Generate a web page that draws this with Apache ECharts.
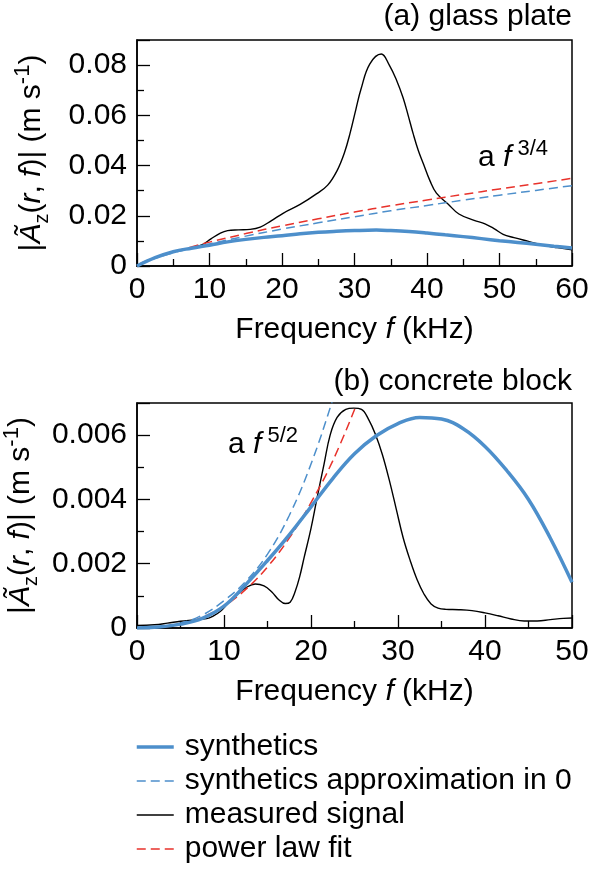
<!DOCTYPE html>
<html>
<head>
<meta charset="utf-8">
<script src="https://cdn.jsdelivr.net/npm/echarts@6/dist/echarts.min.js"></script>
<style>
  html, body { margin: 0; padding: 0; background: #fff; }
  #chart { width: 591px; height: 872px; }
</style>
</head>
<body>
<div id="chart"></div>
<script>
// (a) glass plate, [f kHz, |A| m/s]
const glassMeasured = [
  [0, 0], [2.5, 0.0032], [5, 0.0058], [7.5, 0.0072], [9, 0.0085], [10.2, 0.0108],
  [11.5, 0.0131], [12.5, 0.0141], [14, 0.0144], [15.6, 0.0146], [17, 0.0155],
  [18.5, 0.018], [20.2, 0.0211], [22.5, 0.0245], [24.8, 0.0288], [26.3, 0.0322],
  [27.6, 0.038], [28.6, 0.045], [29.4, 0.053], [30.2, 0.0625], [30.9, 0.0705],
  [32.1, 0.0804], [33.7, 0.0844], [34.8, 0.080], [35.8, 0.074], [36.7, 0.067],
  [37.4, 0.060], [38.1, 0.0526], [38.8, 0.046], [39.5, 0.0407], [40.4, 0.034],
  [41.3, 0.029], [42.9, 0.0247], [44.4, 0.0207], [46.5, 0.0182], [48, 0.0168],
  [49.3, 0.0148], [50.5, 0.0126], [52, 0.0113], [54, 0.0098], [56, 0.0083],
  [58, 0.0073], [60, 0.0064]
];
const glassSynthetic = [
  [0, 0], [2.5, 0.0033], [5, 0.0057], [7.5, 0.0071], [10, 0.0083], [12.5, 0.0096],
  [15, 0.0106], [17.5, 0.0114], [20, 0.012], [22.5, 0.0128], [25, 0.0134],
  [27.5, 0.0138], [30, 0.0141], [33, 0.0143], [35, 0.0141], [37.5, 0.0137],
  [40, 0.0131], [42.5, 0.0124], [45, 0.0117], [47.5, 0.0109], [50, 0.0101],
  [52.5, 0.0094], [55, 0.0087], [57.5, 0.0079], [60, 0.0072]
];
const glassApprox = [
  [0, 0], [1, 0.0016], [2.5, 0.0031], [5, 0.0053], [7.5, 0.0071], [10, 0.0088],
  [15, 0.0119], [20, 0.0147], [25, 0.0172], [30, 0.0196], [35, 0.022], [40, 0.0241],
  [45, 0.0262], [50, 0.0282], [55, 0.0301], [60, 0.032]
];
const glassFit = [
  [0, 0], [1, 0.0017], [2.5, 0.0033], [5, 0.0056], [7.5, 0.0076], [10, 0.0095],
  [15, 0.0129], [20, 0.016], [25, 0.0188], [30, 0.0215], [35, 0.024], [40, 0.0263],
  [45, 0.0285], [50, 0.0307], [55, 0.0328], [60, 0.0349]
];

// (b) concrete block
const concreteMeasured = [
  [0, 0.00008], [2, 0.0001], [3.5, 0.00015], [5, 0.00021], [6.5, 0.00025], [8, 0.00029],
  [8.8, 0.00038], [9.6, 0.00052], [10.5, 0.00078], [11.5, 0.00104], [12.5, 0.00125],
  [13.6, 0.00137], [14.6, 0.00131], [15.5, 0.00112], [16.3, 0.00088], [17.05, 0.00076],
  [17.6, 0.0008], [18.2, 0.00115], [18.7, 0.0016], [19.2, 0.00218], [20, 0.0031],
  [20.7, 0.00405], [21.5, 0.0051], [22.2, 0.006], [23, 0.00655], [24, 0.0068],
  [24.9, 0.00684], [25.8, 0.0068], [26.6, 0.0065], [27.4, 0.00603], [28.2, 0.0054],
  [29, 0.0046], [29.8, 0.0037], [30.6, 0.0028], [31.4, 0.0021], [32.2, 0.0015],
  [33, 0.00105], [33.8, 0.00075], [34.6, 0.00062], [35.5, 0.00058], [37, 0.00057],
  [38.5, 0.00054], [40, 0.00047], [41.5, 0.00038], [43, 0.00028], [44.5, 0.00022],
  [46, 0.00022], [47.5, 0.00026], [49, 0.0003], [50, 0.00031]
];
const concreteSynthetic = [
  [0, 0], [2.5, 0.00003], [5, 0.00012], [7.5, 0.0003], [10, 0.00068], [12.5, 0.00135],
  [15, 0.0021], [17.5, 0.0029], [20, 0.00377], [22.5, 0.00465], [25, 0.00542],
  [27.5, 0.00598], [30, 0.00636], [32.5, 0.00655], [35, 0.0065], [37.5, 0.0062],
  [40, 0.00565], [42.5, 0.0049], [45, 0.004], [47.5, 0.0028], [50, 0.00142]
];
const concreteApprox = [
  [0, 0], [2.5, 0.00003], [5, 0.00015], [7.5, 0.0004], [10, 0.00085], [12.5, 0.00145],
  [15, 0.0023], [17.5, 0.0035], [20, 0.0051], [22.5, 0.0071], [23, 0.0076]
];
const concreteFit = [
  [0, 0], [2.5, 0.00002], [5, 0.00012], [7.5, 0.00033], [10, 0.00068], [12.5, 0.0012],
  [15, 0.0019], [17.5, 0.0028], [20, 0.0039], [22.5, 0.0052], [25.1, 0.00686]
];

const seriesNames = ['synthetics', 'synthetics approximation in 0', 'measured signal', 'power law fit'];
const panelTitles = ['(a) glass plate', '(b) concrete block'];
const freqMax = [60, 50];
const ampMax = [0.09, 0.007];
const ampInterval = [0.02, 0.002];

const FONT = '"Liberation Sans", Arial, Helvetica, sans-serif';
const BLUE = '#4d8fcb';
const RED = '#e8322b';
const FS = 30;

const rich = {
  n: { fontSize: FS, fontFamily: FONT, color: '#000', lineHeight: 40 },
  i: { fontSize: FS, fontFamily: FONT, color: '#000', fontStyle: 'italic', lineHeight: 40 },
  sub: { fontSize: 20, fontFamily: FONT, color: '#000', lineHeight: 21, verticalAlign: 'bottom' },
  sup: { fontSize: 22, fontFamily: FONT, color: '#000', lineHeight: 22, verticalAlign: 'top' }
};
const yName = '{n||}{i|Ã}{sub|z}{n|(}{i|r}{n|, }{i|f}{n|)| (m s}{sup|-1}{n|)}';
const xName = '{n|Frequency }{i|f}{n| (kHz)}';

const tickStyle = { color: '#000', width: 1.3 };

function xAxisFor(g) {
  return {
    gridIndex: g, type: 'value', min: 0, max: freqMax[g], interval: 10,
    name: xName, nameLocation: 'middle', nameGap: 44,
    nameTextStyle: { rich },
    axisLine: { show: true, onZero: false, lineStyle: { color: '#000', width: 1.5 } },
    axisTick: { show: true, inside: true, length: 13, lineStyle: tickStyle },
    minorTick: { show: true, splitNumber: 2, length: 7, lineStyle: tickStyle },
    axisLabel: { color: '#000', fontSize: FS, fontFamily: FONT, margin: 9 },
    splitLine: { show: false }
  };
}

function yAxisFor(g) {
  return {
    gridIndex: g, type: 'value', min: 0, max: ampMax[g], interval: ampInterval[g],
    name: yName, nameLocation: 'middle', nameGap: 85, nameRotate: 90,
    nameTextStyle: { rich },
    axisLine: { show: true, onZero: false, lineStyle: { color: '#000', width: 1.5 } },
    axisTick: { show: true, inside: true, length: 13, lineStyle: tickStyle },
    minorTick: { show: true, splitNumber: 2, length: 7, lineStyle: tickStyle },
    axisLabel: { color: '#000', fontSize: FS, fontFamily: FONT, margin: 10, showMaxLabel: false },
    splitLine: { show: false }
  };
}

function line(name, g, data, color, width, dashed) {
  return {
    name, type: 'line', xAxisIndex: g, yAxisIndex: g, data,
    showSymbol: false, symbol: 'none', smooth: 0.4, clip: true,
    itemStyle: { color },
    lineStyle: { color, width, type: dashed ? [9, 5] : 'solid' }
  };
}

const series = [];
[[glassSynthetic, glassApprox, glassMeasured, glassFit],
 [concreteSynthetic, concreteApprox, concreteMeasured, concreteFit]].forEach((sets, g) => {
  series.push(line(seriesNames[2], g, sets[2], '#000', 1.4, false));
  series.push(line(seriesNames[3], g, sets[3], RED, 1.5, true));
  series.push(line(seriesNames[1], g, sets[1], BLUE, 1.5, true));
  series.push(line(seriesNames[0], g, sets[0], BLUE, 3.5, false));
});

const legendWidths = [3.5, 1.5, 1.4, 1.5];

const chart = echarts.init(document.getElementById('chart'));
chart.setOption({
  animation: false,
  backgroundColor: '#fff',
  title: panelTitles.map((t, i) => ({
    text: t, right: 19, top: i === 0 ? 2 : 367, padding: 0,
    textStyle: { fontSize: FS, fontWeight: 'normal', color: '#000', fontFamily: FONT }
  })),
  grid: [
    { left: 137, top: 40, width: 435, height: 226, outerBoundsMode: 'none',
      show: true, borderColor: '#000', borderWidth: 1.5 },
    { left: 137, top: 403, width: 435, height: 225, outerBoundsMode: 'none',
      show: true, borderColor: '#000', borderWidth: 1.5 }
  ],
  xAxis: [xAxisFor(0), xAxisFor(1)],
  yAxis: [yAxisFor(0), yAxisFor(1)],
  legend: {
    orient: 'vertical', left: 135, top: 732, padding: 0, height: 160,
    itemWidth: 37, itemHeight: 14, itemGap: 4,
    selectedMode: false,
    itemStyle: { opacity: 0 },
    data: seriesNames.map((n, k) => ({ name: n, lineStyle: { width: legendWidths[k] } })),
    textStyle: { fontSize: FS, color: '#000', fontFamily: FONT, lineHeight: 29, padding: [0, 0, 0, 6] }
  },
  graphic: [
    { type: 'text', left: 478, top: 138, style: { text: '{n|a }{i|f}{sup| 3/4}', rich } },
    { type: 'text', left: 228, top: 425, style: { text: '{n|a }{i|f}{sup| 5/2}', rich } }
  ],
  series
});
</script>
</body>
</html>
